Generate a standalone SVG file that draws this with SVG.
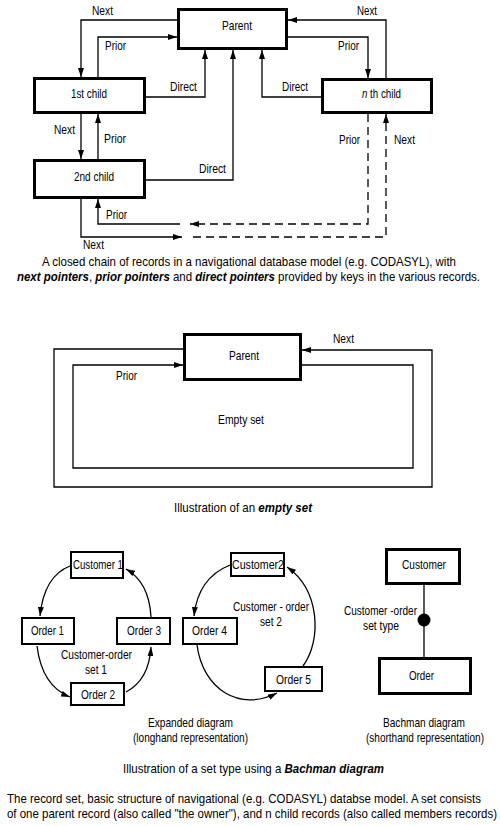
<svg xmlns="http://www.w3.org/2000/svg" width="500" height="826" viewBox="0 0 500 826">
<style>
text{font-family:"Liberation Sans",Arial,Helvetica,sans-serif;font-size:13px;fill:#000}
.bi{font-weight:bold;font-style:italic}
.it{font-style:italic}
.box{fill:#fff;stroke:#000;stroke-width:3}
.box2{fill:#fff;stroke:#000;stroke-width:2}
.ln{fill:none;stroke:#000;stroke-width:1.3}
.arr{marker-end:url(#ah)}
.dash{stroke-dasharray:8 5}
</style>
<defs>
<marker id="ah" viewBox="0 0 9 6" refX="9" refY="3" markerWidth="9" markerHeight="6" markerUnits="userSpaceOnUse" orient="auto"><path d="M0,0 L9,3 L0,6 z" fill="#000"/></marker>
</defs>
<rect width="500" height="826" fill="#fff"/>

<!-- ===== Top: closed chain ===== -->
<g id="connectors-top">
<path class="ln arr" d="M177,20 H81 V77"/>
<path class="ln arr" d="M98,77 V37 H177"/>
<path class="ln arr" d="M146,97 H205 V50"/>
<path class="ln arr" d="M81,114 V159"/>
<path class="ln arr" d="M98,159 V114"/>
<path class="ln arr" d="M146,180 H233 V50"/>
<path class="ln arr" d="M321,97 H262 V50"/>
<path class="ln arr" d="M386,78 V20 H288"/>
<path class="ln arr" d="M288,37 H368 V78"/>
<path class="ln dash arr" d="M368,114 V224 H190"/>
<path class="ln arr" d="M180,224 H98 V199"/>
<path class="ln arr" d="M81,199 V237 H182"/>
<path class="ln dash arr" d="M193,237 H386 V114"/>
<text x="92" y="15" textLength="21" lengthAdjust="spacingAndGlyphs">Next</text>
<text x="105" y="50" textLength="21" lengthAdjust="spacingAndGlyphs">Prior</text>
<text x="170" y="91" textLength="27" lengthAdjust="spacingAndGlyphs">Direct</text>
<text x="54" y="134" textLength="21" lengthAdjust="spacingAndGlyphs">Next</text>
<text x="104" y="143" textLength="22" lengthAdjust="spacingAndGlyphs">Prior</text>
<text x="357" y="15" textLength="20" lengthAdjust="spacingAndGlyphs">Next</text>
<text x="338" y="50" textLength="21" lengthAdjust="spacingAndGlyphs">Prior</text>
<text x="282" y="91" textLength="26" lengthAdjust="spacingAndGlyphs">Direct</text>
<text x="339" y="144" textLength="21" lengthAdjust="spacingAndGlyphs">Prior</text>
<text x="394" y="144" textLength="21" lengthAdjust="spacingAndGlyphs">Next</text>
<text x="199" y="173" textLength="27" lengthAdjust="spacingAndGlyphs">Direct</text>
<text x="106" y="219" textLength="21" lengthAdjust="spacingAndGlyphs">Prior</text>
<text x="83" y="249" textLength="21" lengthAdjust="spacingAndGlyphs">Next</text>
</g>
<g id="parent">
<rect class="box" x="178.5" y="9.5" width="108" height="39"/>
<text x="222" y="30" textLength="30" lengthAdjust="spacingAndGlyphs">Parent</text>
</g>
<g id="child1">
<rect class="box" x="34.5" y="78.5" width="110" height="34"/>
<text x="71" y="98" textLength="36" lengthAdjust="spacingAndGlyphs">1st child</text>
</g>
<g id="childn">
<rect class="box" x="322.5" y="79.5" width="109" height="33"/>
<text x="362" y="98" textLength="39" lengthAdjust="spacingAndGlyphs"><tspan class="it">n</tspan> th child</text>
</g>
<g id="child2">
<rect class="box" x="34.5" y="160.5" width="110" height="37"/>
<text x="74" y="181" textLength="40" lengthAdjust="spacingAndGlyphs">2nd child</text>
</g>
<g id="caption-top">
<text x="42" y="266" textLength="414" lengthAdjust="spacingAndGlyphs">A closed chain of records in a navigational database model (e.g. CODASYL), with</text>
<text x="17" y="281" textLength="463" lengthAdjust="spacingAndGlyphs"><tspan class="bi">next pointers</tspan>, <tspan class="bi">prior pointers</tspan> and <tspan class="bi">direct pointers</tspan> provided by keys in the various records.</text>
</g>

<!-- ===== Middle: empty set ===== -->
<g id="connectors-empty">
<path class="ln arr" d="M183,349 H54 V487 H432 V350 H302"/>
<path class="ln arr" d="M302,365 H413 V468 H73 V365 H183"/>
<text x="333" y="343" textLength="21" lengthAdjust="spacingAndGlyphs">Next</text>
<text x="116" y="380" textLength="21" lengthAdjust="spacingAndGlyphs">Prior</text>
<text x="218" y="424" textLength="46" lengthAdjust="spacingAndGlyphs">Empty set</text>
</g>
<g id="parent-empty">
<rect class="box" x="184.5" y="334.5" width="116" height="45"/>
<text x="229" y="360" textLength="30" lengthAdjust="spacingAndGlyphs">Parent</text>
</g>
<g id="caption-empty">
<text x="174" y="512" textLength="138" lengthAdjust="spacingAndGlyphs">Illustration of an <tspan class="bi">empty set</tspan></text>
</g>

<!-- ===== Bottom: set type ===== -->
<g id="connectors-set">
<path class="ln arr" d="M70,566 Q44,576 40,616"/>
<path class="ln arr" d="M37,646 Q42,686 70,697"/>
<path class="ln arr" d="M126,692 Q149,680 151,647"/>
<path class="ln arr" d="M151,617 Q149,582 126,569"/>
<path class="ln arr" d="M230,565 Q198,578 194,616"/>
<path class="ln arr" d="M197,645 C203,690 240,712 277,693"/>
<path class="ln arr" d="M303,666 C322,640 320,590 287,567"/>
<path class="ln" d="M424,585 V657"/>
<circle cx="424" cy="620" r="6.5" fill="#000"/>
<text x="61" y="659" textLength="71" lengthAdjust="spacingAndGlyphs">Customer-order</text>
<text x="85" y="674" textLength="22" lengthAdjust="spacingAndGlyphs">set 1</text>
<text x="233" y="611" textLength="76" lengthAdjust="spacingAndGlyphs">Customer - order</text>
<text x="260" y="626" textLength="22" lengthAdjust="spacingAndGlyphs">set 2</text>
<text x="344" y="615" textLength="73" lengthAdjust="spacingAndGlyphs">Customer -order</text>
<text x="363" y="630" textLength="36" lengthAdjust="spacingAndGlyphs">set type</text>
</g>
<g id="customer1">
<rect class="box2" x="71" y="552" width="52" height="26"/>
<text x="73" y="569" textLength="50" lengthAdjust="spacingAndGlyphs">Customer 1</text>
</g>
<g id="order1">
<rect class="box2" x="22" y="618" width="52" height="26"/>
<text x="31" y="635" textLength="33" lengthAdjust="spacingAndGlyphs">Order 1</text>
</g>
<g id="order3">
<rect class="box2" x="117" y="618" width="53" height="26"/>
<text x="127" y="635" textLength="34" lengthAdjust="spacingAndGlyphs">Order 3</text>
</g>
<g id="order2">
<rect class="box2" x="71" y="683" width="53" height="22"/>
<text x="81" y="699" textLength="34" lengthAdjust="spacingAndGlyphs">Order 2</text>
</g>
<g id="customer2">
<rect class="box2" x="231" y="553" width="53" height="23"/>
<text x="232" y="569" textLength="52" lengthAdjust="spacingAndGlyphs">Customer2</text>
</g>
<g id="order4">
<rect class="box2" x="183" y="618" width="54" height="26"/>
<text x="192" y="635" textLength="35" lengthAdjust="spacingAndGlyphs">Order 4</text>
</g>
<g id="order5">
<rect class="box2" x="265" y="667" width="57" height="24"/>
<text x="276" y="684" textLength="35" lengthAdjust="spacingAndGlyphs">Order 5</text>
</g>
<g id="bachman-customer">
<rect class="box" x="386.5" y="549.5" width="73" height="34"/>
<text x="402" y="569" textLength="44" lengthAdjust="spacingAndGlyphs">Customer</text>
</g>
<g id="bachman-order">
<rect class="box" x="379.5" y="658.5" width="91" height="35"/>
<text x="409" y="680" textLength="25" lengthAdjust="spacingAndGlyphs">Order</text>
</g>
<g id="captions-bottom">
<text x="148" y="727" textLength="85" lengthAdjust="spacingAndGlyphs">Expanded diagram</text>
<text x="133" y="742" textLength="115" lengthAdjust="spacingAndGlyphs">(longhand representation)</text>
<text x="383" y="727" textLength="82" lengthAdjust="spacingAndGlyphs">Bachman diagram</text>
<text x="366" y="742" textLength="118" lengthAdjust="spacingAndGlyphs">(shorthand representation)</text>
<text x="123" y="773" textLength="261" lengthAdjust="spacingAndGlyphs">Illustration of a set type using a <tspan class="bi">Bachman diagram</tspan></text>
<text x="7" y="803" textLength="474" lengthAdjust="spacingAndGlyphs">The record set, basic structure of navigational (e.g. CODASYL) databse model. A set consists</text>
<text x="7" y="818" textLength="490" lengthAdjust="spacingAndGlyphs">of one parent record (also called "the owner"), and n child records (also called members records)</text>
</g>
</svg>
